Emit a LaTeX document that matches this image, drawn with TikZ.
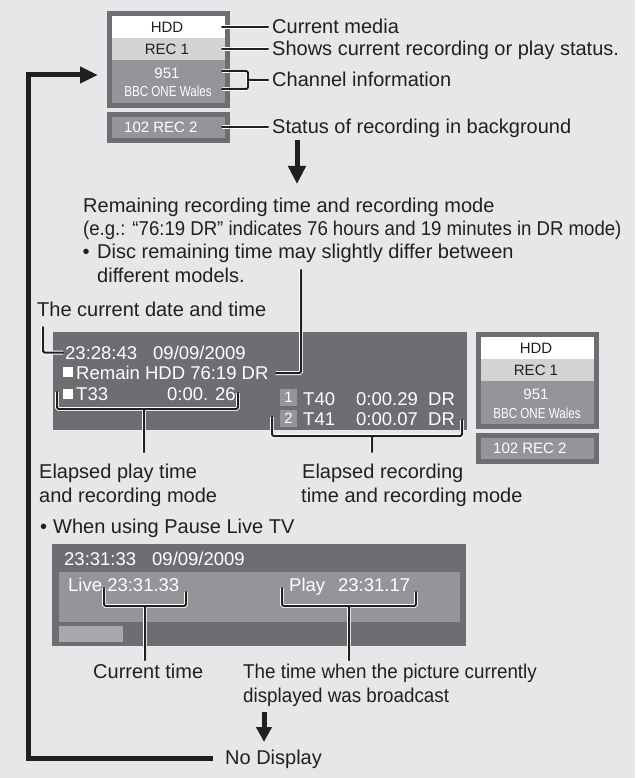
\documentclass[tikz,border=0pt]{standalone}
\usepackage{fontspec}
\setmainfont{Liberation Sans}
\newfontfamily\narrowfont[FakeStretch=0.8]{Liberation Sans}
\newfontfamily\condfont[FakeStretch=0.94]{Liberation Sans}
\newfontfamily\condbfont[FakeStretch=0.93]{Liberation Sans}
\usetikzlibrary{arrows.meta}
\definecolor{bg}{HTML}{E6E7E8}
\definecolor{dark}{HTML}{6D6E71}
\definecolor{mid}{HTML}{939598}
\definecolor{light}{HTML}{D1D3D4}
\definecolor{pale}{HTML}{A7A9AC}
\definecolor{ink}{HTML}{231F20}
\tikzset{
  ann/.style={anchor=base west, inner sep=0pt, text=ink, font=\fontsize{20}{24}\selectfont},
  cann/.style={ann, font=\condfont\fontsize{20}{24}\selectfont},
  scr/.style={anchor=base west, inner sep=0pt, text=white, font=\fontsize{18.5}{22}\selectfont},
  boxtxt/.style={anchor=base, inner sep=0pt, font=\fontsize{15}{18}\selectfont},
  badge/.style={fill=mid, minimum size=17pt, inner sep=0pt, text=white, font=\fontsize{15}{15}\selectfont},
  lead/.style={draw=ink, line width=2pt, line cap=round, line join=round, rounded corners=1.5pt,
    preaction={draw=white, line width=3.8pt}},
  flow/.style={draw=ink, line width=5pt, line join=miter},
}
\newcommand\drawrecbox[3]{%
  \begin{scope}[shift={(#2,#3)}]
    \fill[dark] (107,11) rectangle (230,108);
    \fill[white] (112,16) rectangle (225,38);
    \fill[light] (112,38) rectangle (225,60);
    \fill[mid] (112,60) rectangle (225,103);
    \fill[dark] (107,112) rectangle (230,143);
    \fill[mid] (112,117) rectangle (225,138);
    \node[boxtxt, text=ink] (#1hdd) at (167,32.4) {HDD};
    \node[boxtxt, text=ink] (#1rec) at (167,54.4) {REC 1};
    \node[boxtxt, text=white] (#1ch) at (167,78.4) {951};
    \node[boxtxt, text=white, font=\narrowfont\fontsize{14.5}{17}\selectfont] (#1bbc) at (168,97) {BBC ONE Wales};
    \node[boxtxt, text=white, anchor=base west] (#1bg) at (124,132.4) {102 REC 2};
  \end{scope}}
\begin{document}
\begin{tikzpicture}[x=1pt, y=-1pt]
\useasboundingbox (0,0) rectangle (635,778);
\fill[bg] (0,0) rectangle (635,778);

% top status box and its copy on the right
\drawrecbox{t}{0}{0}
\drawrecbox{m}{369}{321}

% screen panels
\fill[dark] (53,332) rectangle (467,430);
\fill[white] (63,367) rectangle (73,377);
\fill[white] (63,389) rectangle (73,399);
\fill[dark] (52,544) rectangle (466,646);
\fill[mid] (59,572) rectangle (460,622);
\fill[pale] (59,626) rectangle (123,642);

% annotations, top
\node[ann] (cm) at (272,34) {Current media};
\node[ann] (sh) at (272,56) {Shows current recording or play status.};
\node[ann] (ch) at (272,87) {Channel information};
\node[ann] (st) at (272,134) {Status of recording in background};

% remaining time text
\node[ann] (r1) at (83,212) {Remaining recording time and recording mode};
\node[ann, font=\condbfont\fontsize{20}{24}\selectfont] (r2) at (83,235.5) {(e.g.: “76:19 DR” indicates 76 hours and 19 minutes in DR mode)};
\node[ann] (r3b) at (82.5,258.5) {•};
\node[ann] (r3) at (97,258.5) {Disc remaining time may slightly differ between};
\node[ann] (r4) at (97,282) {different models.};
\node[ann] (cd) at (37,316) {The current date and time};

% main screen texts
\node[scr] (clk) at (65,359.6) {23:28:43\hspace{16pt}09/09/2009};
\node[scr] (rem) at (76,379.6) {Remain HDD 76:19 DR};
\node[scr] (t33) at (76,400.6) {T33};
\node[scr] (pt) at (167,400.6) {0:00. 26};
\node[badge] (b1) at (288.5,397.5) {1};
\node[badge] (b2) at (288.5,418) {2};
\node[scr] (t40) at (303,405.6) {T40};
\node[scr] (t40t) at (356,405.6) {0:00.29};
\node[scr] (t40m) at (428,405.6) {DR};
\node[scr] (t41) at (303,425.6) {T41};
\node[scr] (t41t) at (356,425.6) {0:00.07};
\node[scr] (t41m) at (428,425.6) {DR};

\node[ann] (e1) at (39,478) {Elapsed play time};
\node[ann] (e2) at (39,502) {and recording mode};
\node[ann] (f1) at (302,478) {Elapsed recording};
\node[ann] (f2) at (301,502) {time and recording mode};

\node[ann] (pb) at (40,533) {•};
\node[ann] (pl) at (53,533) {When using Pause Live TV};

% pause screen texts
\node[scr] (pclk) at (64,565.6) {23:31:33\hspace{16pt}09/09/2009};
\node[scr] (live) at (68,591.6) {Live 23:31.33};
\node[scr] (play) at (289,591.6) {Play\hspace{13pt}23:31.17};

\node[ann] (ct) at (93,678) {Current time};
\node[cann] (tw1) at (243,678) {The time when the picture currently};
\node[cann] (tw2) at (243,702) {displayed was broadcast};
\node[ann] (nd) at (225,764) {No Display};

% leaders, top box
\coordinate (lh) at (222,27);
\coordinate (lr) at (222,49);
\coordinate (lc1) at (222,71);
\coordinate (lc2) at (222,89);
\coordinate (ls) at (222,127);
\draw[lead] (lh) -- ([xshift=-4pt,yshift=7pt]cm.base west);
\draw[lead] (lr) -- ([xshift=-4pt,yshift=7pt]sh.base west);
\draw[lead] (lc1) -- ++(26,0) -- ++(0,18) -- (lc2)
  ([xshift=-4pt,yshift=7pt]ch.base west) -- ++(-20,0);
\draw[lead] (ls) -- ([xshift=-4pt,yshift=7pt]st.base west);

% leaders, main screen
\coordinate (d1) at (43,327);
\draw[lead] (d1) |- ([xshift=-2pt,yshift=7pt]clk.base west);
\coordinate (rtop) at (301,270);
\draw[lead] ([xshift=7pt,yshift=6.5pt]rem.base east) -| (rtop);
\coordinate (pa) at (57,392);
\coordinate (pbr) at (238,393);
\coordinate (ps) at (144,409);
\coordinate (pe) at (144,452);
\draw[lead] (pa) |- (238,409) -- (pbr) (ps) -- (pe);
\coordinate (ra) at (272,417);
\coordinate (rb) at (462,420);
\coordinate (rs) at (372,436);
\coordinate (re) at (372,452);
\draw[lead] (ra) |- (462,436) -- (rb) (rs) -- (re);

% leaders, pause screen
\coordinate (la) at (104,588);
\coordinate (lb) at (186,592);
\coordinate (lst) at (145,606);
\coordinate (len) at (145,660);
\draw[lead] (la) |- (186,606) -- (lb) (lst) -- (len);
\coordinate (qa) at (282,588);
\coordinate (qb) at (416,592);
\coordinate (qs) at (349,606);
\coordinate (qe) at (349,660);
\draw[lead] (qa) |- (416,606) -- (qb) (qs) -- (qe);

% flow arrows
\coordinate (a1s) at (297,140);
\coordinate (a1e) at (297,184);
\draw[flow, -{Triangle[width=17pt,length=18pt]}] (a1s) -- (a1e);
\coordinate (a2s) at (264,712);
\coordinate (a2e) at (264,742);
\draw[flow, -{Triangle[width=15pt,length=15pt]}] (a2s) -- (a2e);
\coordinate (lp0) at ([xshift=-12pt,yshift=6pt]nd.base west);
\coordinate (lp1) at (28,758);
\coordinate (lp2) at (28,75);
\coordinate (lp3) at (98,75);
\draw[flow, -{Triangle[width=16pt,length=18pt]}] (lp0) -- (lp1) -- (lp2) -- (lp3);
\end{tikzpicture}
\end{document}
